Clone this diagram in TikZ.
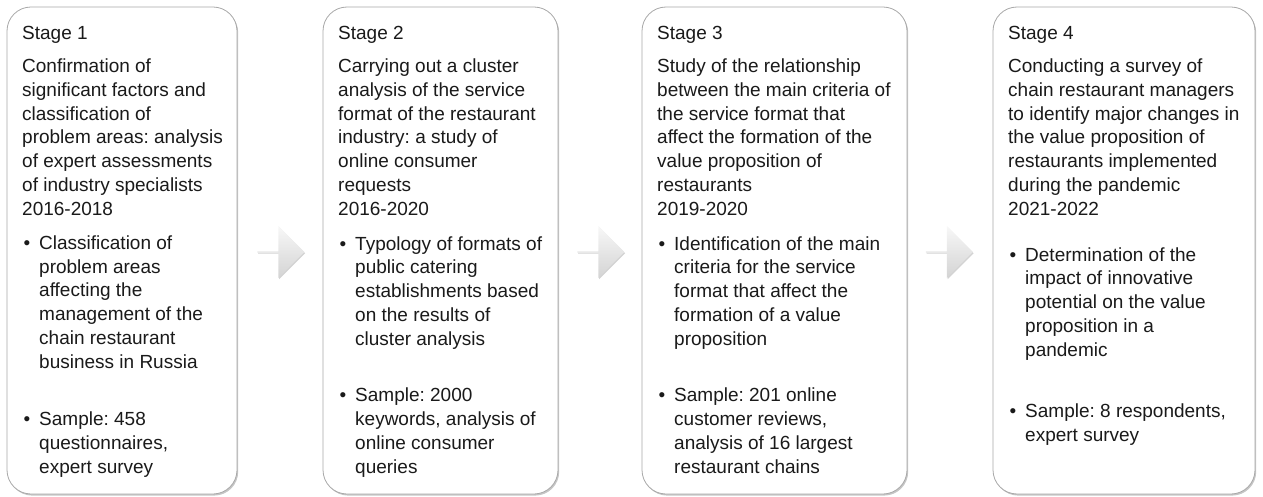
\documentclass[tikz,border=0pt]{standalone}
\usepackage{fontspec}
\setmainfont{Liberation Sans}
\frenchspacing
\usepackage{tikz}
\usetikzlibrary{shapes.arrows,shadows}
\definecolor{frame}{HTML}{A8A8A8}
\definecolor{ink}{HTML}{1A1A1A}
\tikzset{
  stage/.style={draw=frame,line width=0.8pt,rounded corners=24pt,fill=white,
    minimum height=487pt,inner sep=0pt,
    drop shadow={shadow xshift=1.2pt,shadow yshift=-1.6pt,opacity=0.45}},
  % anchored on the baseline of the last line
  head/.style={anchor=base west,align=left,inner sep=0pt,text=ink,
    font=\fontsize{19}{23.7}\selectfont},
  point/.style={head},
  flow/.style={single arrow,single arrow head extend=10pt,minimum width=52pt,
    minimum height=47pt,inner sep=0pt,draw=none,top color=gray!6,bottom color=gray!34,
    drop shadow={shadow xshift=0.8pt,shadow yshift=-1.2pt,opacity=0.35}}
}
\newcommand{\bul}{\llap{\textbullet\hspace{9pt}}}

\begin{document}
\begin{tikzpicture}[x=1pt,y=-1pt]
  \useasboundingbox (0,0) rectangle (1263,497);

  % the four stage frames
  \node[stage,minimum width=230pt] (s1) at (122,250.5) {};
  \node[stage,minimum width=235pt] (s2) at (440.5,250.5) {};
  \node[stage,minimum width=265pt] (s3) at (774.5,250.5) {};
  \node[stage,minimum width=262pt] (s4) at (1124,250.5) {};

  % arrows between the stages
  \node[flow] (a12) at (280.5,252) {};
  \node[flow] (a23) at (600.5,252) {};
  \node[flow] (a34) at (949,252) {};

  % Stage 1
  \node[head] (h1) at (22,215) {Stage 1\\[9.3pt]Confirmation of\\significant factors and\\classification of\\problem areas: analysis\\of expert assessments\\of industry specialists\\2016-2018};
  \node[point] (p1a) at (39,368) {\bul Classification of\\problem areas\\affecting the\\management of the\\chain restaurant\\business in Russia};
  \node[point] (p1b) at (39,473) {\bul Sample: 458\\questionnaires,\\expert survey};

  % Stage 2
  \node[head] (h2) at (338,215) {Stage 2\\[9.3pt]Carrying out a cluster\\analysis of the service\\format of the restaurant\\industry: a study of\\online consumer\\requests\\2016-2020};
  \node[point] (p2a) at (355,345) {\bul Typology of formats of\\public catering\\establishments based\\on the results of\\cluster analysis};
  \node[point] (p2b) at (355,473) {\bul Sample: 2000\\keywords, analysis of\\online consumer\\queries};

  % Stage 3
  \node[head] (h3) at (657,215) {Stage 3\\[9.3pt]Study of the relationship\\between the main criteria of\\the service format that\\affect the formation of the\\value proposition of\\restaurants\\2019-2020};
  \node[point] (p3a) at (674,345) {\bul Identification of the main\\criteria for the service\\format that affect the\\formation of a value\\proposition};
  \node[point] (p3b) at (674,473) {\bul Sample: 201 online\\customer reviews,\\analysis of 16 largest\\restaurant chains};

  % Stage 4
  \node[head] (h4) at (1008,215) {Stage 4\\[9.3pt]Conducting a survey of\\chain restaurant managers\\to identify major changes in\\the value proposition of\\restaurants implemented\\during the pandemic\\2021-2022};
  \node[point] (p4a) at (1025,356) {\bul Determination of the\\impact of innovative\\potential on the value\\proposition in a\\pandemic};
  \node[point] (p4b) at (1025,441) {\bul Sample: 8 respondents,\\expert survey};
\end{tikzpicture}
\end{document}
